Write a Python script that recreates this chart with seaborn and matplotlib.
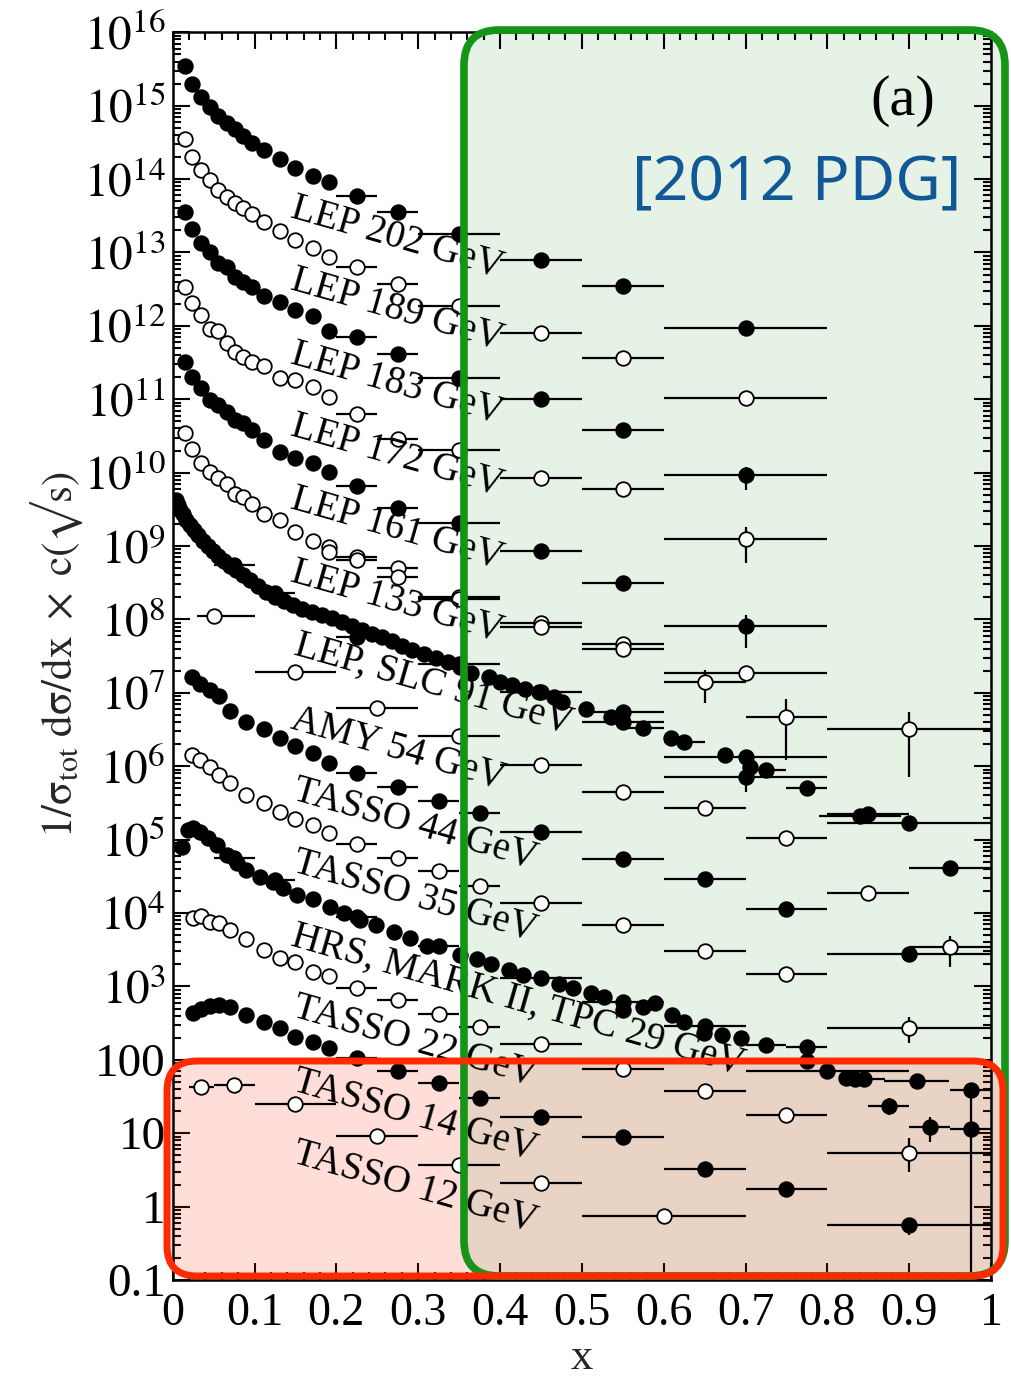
import matplotlib
matplotlib.use("Agg")
import matplotlib.pyplot as plt
from matplotlib.patches import FancyBboxPatch
from matplotlib.ticker import MultipleLocator, LogLocator, NullFormatter
import numpy as np
import seaborn as sns

# ---------------- data ----------------
lep_x = [0.015, 0.024, 0.035, 0.045, 0.055, 0.066, 0.076, 0.086, 0.097, 0.111,
         0.131, 0.150, 0.171, 0.191, 0.225, 0.275, 0.35, 0.45, 0.55, 0.70]
lep_xerr = [0] * 14 + [0.025, 0.025, 0.05, 0.05, 0.05, 0.1]

lep202_y = [3.5e15, 1.95e15, 1.32e15, 9.7e14, 7.3e14, 5.8e14, 4.8e14, 3.9e14, 3.06e14, 2.5e14,
            1.85e14, 1.4e14, 1.1e14, 9.2e13, 5.9e13, 3.6e13, 1.8e13, 7.9e12, 3.5e12, 9.4e11]
lep189_y = [3.48e14, 2.01e14, 1.33e14, 9.7e13, 7.2e13, 5.7e13, 4.7e13, 4.0e13, 3.3e13, 2.6e13,
            1.96e13, 1.5e13, 1.14e13, 8.7e12, 6.4e12, 3.7e12, 1.88e12, 8.1e11, 3.6e11, 1.03e11]
lep183_y = [3.6e13, 2.08e13, 1.33e13, 1.02e13, 7.1e12, 6.4e12, 4.7e12, 4.0e12, 3.35e12, 2.55e12,
            2.13e12, 1.64e12, 1.36e12, 8.5e11, 7.1e11, 4.1e11, 1.93e11, 1.0e11, 3.85e10, 9.2e9]
lep172_y = [3.35e12, 2.03e12, 1.4e12, 9.2e11, 8.6e11, 5.8e11, 4.4e11, 3.8e11, 3.24e11, 2.83e11,
            1.93e11, 1.85e11, 1.48e11, 1.08e11, 6.3e10, 2.9e10, 2.03e10, 8.5e9, 5.9e9, 1.23e9]
lep161_y = [3.24e11, 2.03e11, 1.41e11, 9.75e10, 8.3e10, 6.8e10, 5.2e10, 4.7e10, 3.8e10, 2.78e10,
            1.93e10, 1.6e10, 1.34e10, 1.03e10, 6.6e9, 3.3e9, 2.07e9, 8.55e8, 3.16e8, 8.1e7]
lep133_y = [3.43e10, 2.07e10, 1.34e10, 1.03e10, 8.4e9, 7.1e9, 5.2e9, 4.7e9, 3.8e9, 2.7e9,
            2.26e9, 1.57e9, 1.17e9, 9.8e8, 7.1e8, 5.1e8, 2.04e8, 8.9e7, 4.7e7, 1.88e7]
lep133b_x = [0.191, 0.225, 0.275, 0.35, 0.45, 0.55, 0.65, 0.75, 0.90]
lep133b_y = [8.4e8, 6.4e8, 3.8e8, 1.9e8, 8.0e7, 4.0e7, 1.42e7, 4.7e6, 3.2e6]
lep133b_xerr = [0, 0.025, 0.025, 0.05, 0.05, 0.05, 0.05, 0.05, 0.1]

lep91_x = [0.004, 0.0065, 0.009, 0.0126, 0.0163, 0.021, 0.026, 0.031, 0.037, 0.043,
           0.049, 0.055, 0.063, 0.070, 0.077, 0.086, 0.094, 0.104, 0.114, 0.125,
           0.136, 0.147, 0.158, 0.170, 0.183, 0.195, 0.207, 0.219, 0.231, 0.244,
           0.256, 0.268, 0.280, 0.293, 0.307, 0.322, 0.337, 0.351, 0.365, 0.387,
           0.400, 0.415, 0.431, 0.448, 0.466, 0.476, 0.505, 0.536, 0.609, 0.675, 0.706]
lep91_y = [4.2e9, 3.6e9, 3.1e9, 2.73e9, 2.26e9, 1.93e9, 1.65e9, 1.41e9, 1.17e9, 1.0e9,
           8.55e8, 7.3e8, 6.25e8, 5.35e8, 4.7e8, 4.0e8, 3.44e8, 2.85e8, 2.36e8, 2.02e8,
           1.78e8, 1.57e8, 1.39e8, 1.26e8, 1.15e8, 1.05e8, 9.2e7, 8.1e7, 7.2e7, 6.3e7,
           5.75e7, 5.1e7, 4.35e7, 3.83e7, 3.38e7, 2.98e7, 2.63e7, 2.25e7, 1.86e7, 1.64e7,
           1.4e7, 1.28e7, 1.13e7, 1.03e7, 8.8e6, 7.5e6, 6.0e6, 4.7e6, 2.42e6, 1.42e6, 9.75e5]
lep91b_x = [0.075, 0.125, 0.225, 0.35, 0.45, 0.55, 0.55, 0.575, 0.625, 0.70, 0.70,
            0.725, 0.775, 0.84, 0.85, 0.90, 0.95]
lep91b_y = [5.5e8, 2.3e8, 5.8e7, 2.47e7, 1.03e7, 5.5e6, 4.0e6, 3.3e6, 2.14e6, 1.33e6, 7.1e5,
            8.9e5, 5.05e5, 2.1e5, 2.23e5, 1.68e5, 4.1e4]
lep91b_xerr = [0.025, 0.025, 0.025, 0.05, 0.05, 0.05, 0.05, 0.025, 0.025, 0.1, 0.1,
               0.025, 0.025, 0.05, 0.05, 0.1, 0.05]

amy_x = [0.05, 0.15, 0.25, 0.35, 0.45, 0.55, 0.65, 0.75, 0.85, 0.95]
amy_y = [1.11e8, 1.91e7, 6.3e6, 2.58e6, 1.04e6, 4.5e5, 2.67e5, 1.06e5, 1.85e4, 3.4e3]
amy_xerr_lo = [0.02, 0.05, 0.05, 0.05, 0.05, 0.05, 0.05, 0.05, 0.05, 0.05]
amy_xerr_hi = [0.05, 0.05, 0.05, 0.05, 0.05, 0.05, 0.05, 0.05, 0.05, 0.05]

tasso_x = [0.023, 0.033, 0.045, 0.056, 0.070, 0.090, 0.111, 0.131, 0.150, 0.171,
           0.191, 0.225, 0.275, 0.325, 0.375, 0.45, 0.55, 0.65, 0.75, 0.90]
tasso_xerr = [0] * 11 + [0.025, 0.025, 0.025, 0.025, 0.05, 0.05, 0.05, 0.05, 0.1]
t44_y = [1.66e7, 1.32e7, 1.09e7, 9.0e6, 5.65e6, 4.04e6, 3.18e6, 2.4e6, 1.88e6, 1.53e6,
         1.12e6, 8.15e5, 5.26e5, 3.36e5, 2.28e5, 1.28e5, 5.4e4, 2.88e4, 1.15e4, 2.74e3]
t35_y = [1.42e6, 1.21e6, 9.8e5, 7.6e5, 5.85e5, 4.05e5, 3.13e5, 2.4e5, 1.89e5, 1.58e5,
         1.22e5, 8.6e4, 5.6e4, 3.73e4, 2.33e4, 1.38e4, 6.9e3, 3.03e3, 1.46e3, 2.7e2]
tlow_x = [0.025, 0.035, 0.045, 0.056, 0.070, 0.090, 0.111, 0.131, 0.150, 0.171,
          0.191, 0.225, 0.275, 0.325, 0.375, 0.45, 0.55, 0.65, 0.75, 0.90]
t22_y = [8.5e3, 9.1e3, 7.6e3, 7.4e3, 5.9e3, 4.4e3, 3.13e3, 2.42e3, 2.17e3, 1.58e3,
         1.39e3, 9.6e2, 6.5e2, 4.2e2, 2.83e2, 1.63e2, 75, 38, 17.9, 5.3]
t14_y = [4.3e2, 5.0e2, 5.4e2, 5.6e2, 5.2e2, 4.1e2, 3.3e2, 2.7e2, 2.03e2, 1.77e2,
         1.44e2, 1.05e2, 70, 49, 30, 16.5, 9.0, 3.25, 1.74, 0.56]
t12_x = [0.035, 0.075, 0.15, 0.25, 0.35, 0.45, 0.60]
t12_y = [42, 45, 24.8, 9.2, 3.7, 2.1, 0.74]
t12_xerr = [0.015, 0.025, 0.05, 0.05, 0.05, 0.05, 0.1]

hrs_x = [0.011, 0.019, 0.025, 0.033, 0.0435, 0.054, 0.066, 0.078, 0.090, 0.107,
         0.123, 0.135, 0.152, 0.172, 0.192, 0.209, 0.229, 0.249, 0.270, 0.290,
         0.311, 0.351, 0.372, 0.389, 0.411, 0.428, 0.472, 0.489, 0.511, 0.527,
         0.575, 0.590, 0.550, 0.610, 0.625, 0.649, 0.671, 0.695, 0.823, 0.834]
hrs_y = [8.0e4, 1.35e5, 1.43e5, 1.28e5, 1.04e5, 8.4e4, 6.2e4, 4.75e4, 3.85e4, 3.13e4,
         2.67e4, 2.17e4, 1.76e4, 1.54e4, 1.22e4, 9.9e3, 8.0e3, 6.9e3, 5.6e3, 4.5e3,
         3.5e3, 2.7e3, 2.4e3, 2.0e3, 1.67e3, 1.43e3, 1.08e3, 9.4e2, 8.2e2, 7.2e2,
         5.3e2, 5.9e2, 4.8e2, 4.1e2, 3.3e2, 2.34e2, 2.2e2, 2.0e2, 56, 55]
hrsb_x = [0.075, 0.125, 0.225, 0.325, 0.45, 0.55, 0.65, 0.725, 0.775, 0.775, 0.80,
          0.845, 0.875, 0.909, 0.925, 0.975, 0.975]
hrsb_y = [5.7e4, 2.8e4, 8.9e3, 3.5e3, 1.31e3, 6.2e2, 2.9e2, 1.59e2, 1.5e2, 96, 71,
          55, 23.5, 52, 12.3, 39, 11.3]
hrsb_xerr = [0.025, 0.025, 0.025, 0.025, 0.05, 0.05, 0.05, 0.025, 0.025, 0.025, 0.1,
             0.025, 0.025, 0.04, 0.025, 0.025, 0.025]

# vertical error bars (x, low, high)
verr_x = [0.70, 0.70, 0.70, 0.65, 0.75, 0.90, 0.70, 0.95, 0.90, 0.90, 0.875, 0.925, 0.975, 0.90]
verr_lo = [5.8e9, 5.8e8, 4.1e7, 7.3e6, 1.2e6, 7.2e5, 4.5e5, 1.84e3, 2.96, 0.41, 17.7, 7.6, 0.1, 168]
verr_hi = [1.2e10, 1.83e9, 1.15e8, 2.05e7, 8.2e6, 5.5e6, 8.9e5, 4.9e3, 8.6, 0.70, 30, 16.6, 45, 386]

label_texts = ["LEP 202 GeV", "LEP 189 GeV", "LEP 183 GeV", "LEP 172 GeV", "LEP 161 GeV",
               "LEP 133 GeV", "LEP, SLC 91 GeV", "AMY 54 GeV", "TASSO 44 GeV", "TASSO 35 GeV",
               "HRS, MARK II, TPC 29 GeV", "TASSO 22 GeV", "TASSO 14 GeV", "TASSO 12 GeV"]
label_pos = [(0.274, 0.835), (0.274, 0.777), (0.274, 0.718), (0.274, 0.660), (0.274, 0.602),
             (0.274, 0.543), (0.319, 0.477), (0.275, 0.425), (0.296, 0.365), (0.296, 0.307),
             (0.422, 0.224), (0.296, 0.191), (0.296, 0.132), (0.296, 0.074)]

xtick_vals = [0, 0.1, 0.2, 0.3, 0.4, 0.5, 0.6, 0.7, 0.8, 0.9, 1.0]
xtick_labels = ["0", "0.1", "0.2", "0.3", "0.4", "0.5", "0.6", "0.7", "0.8", "0.9", "1"]
ytick_vals = [10.0 ** k for k in range(-1, 17)]
ytick_labels = ["0.1", "1", "10", "100"] + [r"$10^{%d}$" % k for k in range(3, 17)]

series = [
    (lep_x, lep202_y, lep_xerr, True),
    (lep_x, lep189_y, lep_xerr, False),
    (lep_x, lep183_y, lep_xerr, True),
    (lep_x, lep172_y, lep_xerr, False),
    (lep_x, lep161_y, lep_xerr, True),
    (lep_x, lep133_y, lep_xerr, False),
    (lep133b_x, lep133b_y, lep133b_xerr, False),
    (lep91_x, lep91_y, None, True),
    (lep91b_x, lep91b_y, lep91b_xerr, True),
    (amy_x, amy_y, [amy_xerr_lo, amy_xerr_hi], False),
    (tasso_x, t44_y, tasso_xerr, True),
    (tasso_x, t35_y, tasso_xerr, False),
    (hrs_x, hrs_y, None, True),
    (hrsb_x, hrsb_y, hrsb_xerr, True),
    (tlow_x, t22_y, tasso_xerr, False),
    (tlow_x, t14_y, tasso_xerr, True),
    (t12_x, t12_y, t12_xerr, False),
]

# ---------------- style ----------------
sns.set_style("ticks")
plt.rcParams["font.family"] = ["Liberation Serif", "DejaVu Serif"]
plt.rcParams["mathtext.fontset"] = "stix"

W, H = 1012, 1384
fig = plt.figure(figsize=(W / 100, H / 100), dpi=100)
fig.patch.set_facecolor("white")
ax = fig.add_axes([172.7 / W, 1 - 1280 / H, 818.3 / W, 1247.7 / H])
ax.set_facecolor("white")


def fig_box(x0, y0, x1, y1, r, **kw):
    return FancyBboxPatch((x0 / W, 1 - y1 / H), (x1 - x0) / W, (y1 - y0) / H,
                          boxstyle="round,pad=0,rounding_size=%f" % (r / W),
                          mutation_aspect=W / H, transform=fig.transFigure,
                          clip_on=False, **kw)


# translucent fills (under the data)
ax.add_artist(fig_box(464, 30, 1005, 1276, 35, facecolor=(0.0, 0.5, 0.0, 0.10),
                      edgecolor="none", zorder=0.5))
ax.add_artist(fig_box(167, 1061, 1003, 1276, 30, facecolor=(1.0, 0.2, 0.1, 0.16),
                      edgecolor="none", zorder=0.6))

for xs, ys, xe, filled in series:
    if xe is not None:
        ax.errorbar(xs, ys, xerr=xe, fmt="none", ecolor="black", elinewidth=1.6,
                    capsize=0, zorder=2)
    sns.scatterplot(x=xs, y=ys, ax=ax, s=110, color="black" if filled else "white",
                    edgecolor="black", linewidth=1.3, zorder=3, legend=False)

ax.vlines(verr_x, verr_lo, verr_hi, color="black", linewidth=1.6, zorder=2)

ax.set_yscale("log")
ax.set_xlim(0, 1)
ax.set_ylim(0.1, 1e16)
ax.set_xticks(xtick_vals)
ax.set_xticklabels(xtick_labels)
ax.xaxis.set_minor_locator(MultipleLocator(0.02))
ax.set_yticks(ytick_vals)
ax.set_yticklabels(ytick_labels)
ax.yaxis.set_minor_locator(LogLocator(base=10, subs=np.arange(2, 10), numticks=200))
ax.yaxis.set_minor_formatter(NullFormatter())
ax.tick_params(which="both", direction="in", top=True, right=True, width=1.5,
               colors="black")
ax.tick_params(axis="y", which="major", length=12, labelsize=34, pad=5)
ax.tick_params(axis="x", which="major", length=12, labelsize=33, pad=9)
ax.tick_params(which="minor", length=6)
for sp in ax.spines.values():
    sp.set_linewidth(1.8)
    sp.set_color("black")
ax.grid(False)

for txt, (px, py) in zip(label_texts, label_pos):
    ax.text(px, py, txt, transform=ax.transAxes, fontsize=28, rotation=-16,
            rotation_mode="anchor", ha="center", va="center", color="black", zorder=4)

ax.text(0.892, 0.945, "(a)", transform=ax.transAxes, fontsize=42, ha="center",
        va="center", color="black", zorder=4)
ax.text(0.763, 0.878, "[2012 PDG]", transform=ax.transAxes, fontsize=45,
        family=["Noto Sans", "DejaVu Sans"], ha="center", va="center",
        color="#105896", zorder=4)

fig.text(57 / W, 1 - 655 / H, r"$\mathrm{1/\sigma_{tot}\ d\sigma/dx\ \times\ c(√s)}$",
         rotation=90, ha="center", va="center", fontsize=31)
fig.text(582 / W, 1 - 1369 / H, "x", ha="center", va="baseline", fontsize=32)

# sketchy overlay borders (on top)
ax.add_artist(fig_box(464, 30, 1005, 1276, 35, facecolor="none",
                      edgecolor="#169416", linewidth=5.5, zorder=10))
ax.add_artist(fig_box(167, 1061, 1003, 1276, 30, facecolor="none",
                      edgecolor="#ff2a00", linewidth=5, zorder=11))

fig.savefig("out.png", dpi=100, facecolor="white")
